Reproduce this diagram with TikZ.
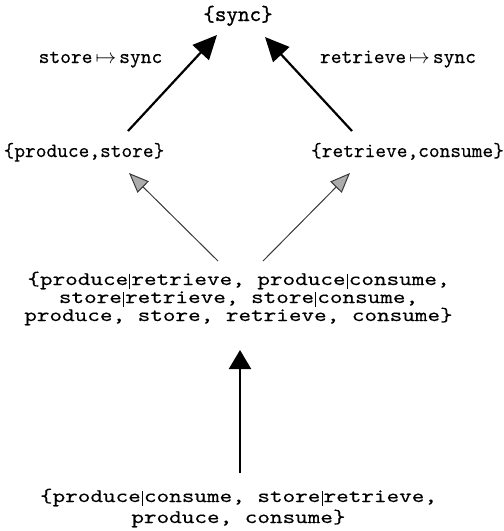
\documentclass[tikz,border=0pt]{standalone}
\usepackage{fontspec}
\newfontfamily\lmm{lmmono10-regular.otf}[FakeStretch=1.25,FakeBold=0.3]
\newfontfamily\lmmt{lmmono10-regular.otf}[FakeBold=0.25]
\newfontfamily\lmmb{lmmono10-regular.otf}[FakeBold=1.1]
\usetikzlibrary{arrows.meta,calc}
\newcommand\bsep{\kern1.3pt\rule[-3.5pt]{0.6pt}{15pt}\kern1.3pt}
\newcommand\mto{\kern3pt$\mapsto$\kern3pt}
\newcommand\tightlines{\lineskiplimit=-50pt\relax\lineskip=0pt\relax}
\tikzset{
  txt/.style={inner sep=0pt, anchor=base},
  bigtxt/.style={txt, align=center, font=\lmm\fontsize{19.2}{18}\selectfont\tightlines},
  bottxt/.style={txt, align=center, font=\lmm\fontsize{19.2}{21}\selectfont\tightlines},
  settxt/.style={txt, font=\lmmt\fontsize{20.4}{20}\selectfont},
  maptxt/.style={txt, font=\lmmt\fontsize{20.5}{20}\selectfont},
  blk/.style={line width=2.2pt, -{Triangle[length=24pt,width=22pt]}},
  blkv/.style={line width=2.2pt, -{Triangle[length=19pt,width=22pt]}},
  gry/.style={line width=1pt, draw=gray!45!black,
     -{Triangle[length=20pt,width=16pt,fill=gray!65,color=gray!45!black]}}
}
\begin{document}
\begin{tikzpicture}[x=1pt,y=-1pt]
\useasboundingbox (0,0) rectangle (504,531);
\node[txt, font=\lmmb\fontsize{22}{22}\selectfont] (sync) at (238,21) {\{sync\}};
\node[maptxt] (lm) at (100.5,63) {store\mto sync};
\node[maptxt] (rm) at (398,63) {retrieve\mto sync};
\node[settxt] (ps) at (84,157) {\{produce,store\}};
\node[settxt] (rc) at (407.5,157) {\{retrieve,consume\}};
\node[bigtxt] (mid) at (238.5,321) {\{produce\bsep retrieve, produce\bsep consume,\\
  store\bsep retrieve, store\bsep consume,\\
  produce, store, retrieve, consume\}};
\node[bottxt] (bot) at (238.5,523) {\{produce\bsep consume, store\bsep retrieve,\\
  produce, consume\}};
% arrows
\draw[blk] ($(ps.base)+(44,-26)$) -- ($(sync.base)+(-21,14)$);
\draw[blk] ($(rc.base)+(-55.5,-26)$) -- ($(sync.base)+(27,16)$);
\draw[gry] ($(mid.base)+(-20.5,-60)$) -- ($(ps.base)+(45,16)$);
\draw[gry] ($(mid.base)+(24.5,-60)$) -- ($(rc.base)+(-57.5,16)$);
\draw[blkv] ($(bot.base)+(1.5,-50)$) -- ($(mid.base)+(1.5,29)$);
\end{tikzpicture}
\end{document}
